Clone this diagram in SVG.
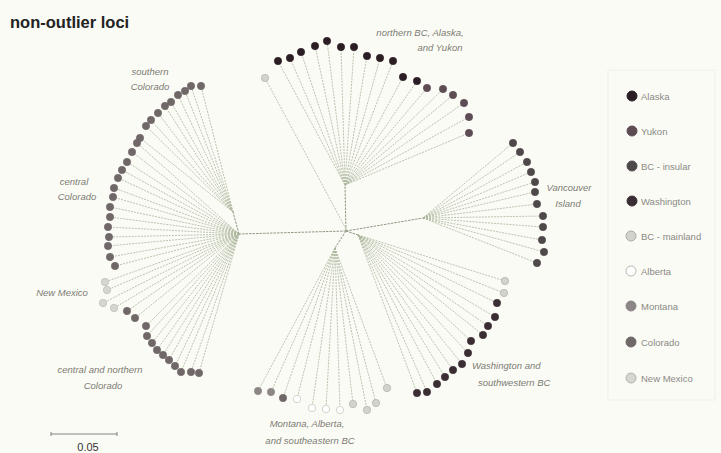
<svg xmlns="http://www.w3.org/2000/svg" width="721" height="453" viewBox="0 0 721 453">
<defs>
<style>
.bg{fill:#fbfbf6}
.br{fill:none;stroke:#a9b59a;stroke-width:0.8;stroke-dasharray:2 1.1}
.bb{fill:none;stroke:#8f9982;stroke-width:1;stroke-dasharray:2.5 1}
.lf{stroke-width:0.6}
.ak{fill:#2b1d24;stroke:#2b1d24}
.yk{fill:#5e4c55;stroke:#5e4c55}
.bi{fill:#4f484b;stroke:#4f484b}
.wa{fill:#3b2d34;stroke:#3b2d34}
.bm{fill:#d2d3cb;stroke:#aaaba3}
.ab{fill:#ffffff;stroke:#b8b8b2}
.mt{fill:#8c8687;stroke:#8c8687}
.co{fill:#6f6768;stroke:#6f6768}
.nm{fill:#d6d7cf;stroke:#b3b4ac}
.lab{font-family:"Liberation Sans",Arial,sans-serif;font-style:italic;font-size:9.5px;fill:#7b7b73}
.leg{font-family:"Liberation Sans",Arial,sans-serif;font-size:9.5px;fill:#8a8a84}
</style>
</defs>
<rect class="bg" x="0" y="0" width="721" height="453"/>
<text x="10" y="28" font-family="'Liberation Sans',Arial,sans-serif" font-weight="bold" font-size="16.5" fill="#222">non-outlier loci</text>

<g id="connectors">
<path class="bb" d="M346,231L345,185M346,231L423,218M346,231L358,235M346,231L335,248M346,231L239,234M239,234L233,212"/>
<path class="br" d="M346,229L265,78M345,185L278,61M345,185L290,58M345,185L301,52M345,185L315,46M345,185L327,41M345,185L341,47M345,185L354,47M345,185L367,56M345,185L380,58M345,185L393,61M345,185L403,77M345,185L417,81M345,185L427,88M345,185L443,89M345,185L453,95M345,185L464,103M345,185L469,117M345,185L469,133"/>
<path class="br" d="M423,218L513,143M423,218L520,152M423,218L527,162M423,218L531,172M423,218L535,182M423,218L535,192M423,218L537,204M423,218L543,216M423,218L543,227M423,218L542,240M423,218L544,252M423,218L537,263"/>
<path class="br" d="M358,235L505,281M358,235L504,293M358,235L497,303M358,235L495,317M358,235L488,326M358,235L483,335M358,235L471,341M358,235L468,353M358,235L462,364M358,235L453,370M358,235L445,377M358,235L437,384M358,235L427,392M358,235L417,393"/>
<path class="br" d="M335,248L258,391M335,248L271,392M335,248L283,398M335,248L297,399M335,248L312,408M335,248L326,409M335,248L340,410M335,248L353,404M335,248L367,410M335,248L376,403M335,248L387,388"/>
<path class="br" d="M233,212L201,86M233,212L191,86M233,212L185,91M233,212L178,95M233,212L171,102M233,212L165,106M233,212L158,113M233,212L151,120M233,212L146,126M233,212L140,138M239,234L137,143M239,234L132,152M239,234L127,162M239,234L122,170M239,234L118,178M239,234L114,188M239,234L113,197M239,234L110,207M239,234L110,217M239,234L108,227M239,234L109,237M239,234L108,246M239,234L110,257M239,234L115,266M239,234L105,282M239,234L107,290M239,234L103,303M239,234L114,308M239,234L127,311M239,234L135,318M239,234L146,326M239,234L147,336M239,234L152,343M239,234L157,350M239,234L163,355M239,234L169,360M239,234L175,366M239,234L181,372M239,234L191,372M239,234L199,373"/>
</g>

<g id="clade-north" class="lf">
<circle id="n1" class="bm" cx="265" cy="78" r="3.7"/>
<circle id="n2" class="ak" cx="278" cy="61" r="3.7"/>
<circle id="n3" class="ak" cx="290" cy="58" r="3.7"/>
<circle id="n4" class="ak" cx="301" cy="52" r="3.7"/>
<circle id="n5" class="ak" cx="315" cy="46" r="3.7"/>
<circle id="n6" class="ak" cx="327" cy="41" r="3.7"/>
<circle id="n7" class="ak" cx="341" cy="47" r="3.7"/>
<circle id="n8" class="ak" cx="354" cy="47" r="3.7"/>
<circle id="n9" class="ak" cx="367" cy="56" r="3.7"/>
<circle id="n10" class="ak" cx="380" cy="58" r="3.7"/>
<circle id="n11" class="ak" cx="393" cy="61" r="3.7"/>
<circle id="n12" class="ak" cx="403" cy="77" r="3.7"/>
<circle id="n13" class="ak" cx="417" cy="81" r="3.7"/>
<circle id="n14" class="yk" cx="427" cy="88" r="3.7"/>
<circle id="n15" class="yk" cx="443" cy="89" r="3.7"/>
<circle id="n16" class="yk" cx="453" cy="95" r="3.7"/>
<circle id="n17" class="yk" cx="464" cy="103" r="3.7"/>
<circle id="n18" class="yk" cx="469" cy="117" r="3.7"/>
<circle id="n19" class="yk" cx="469" cy="133" r="3.7"/>
<text class="lab" x="420" y="36" text-anchor="middle">northern BC, Alaska,</text>
<text class="lab" x="440" y="51" text-anchor="middle">and Yukon</text>
</g>

<g id="clade-vancouver" class="lf">
<circle id="v1" class="bi" cx="513" cy="143" r="3.7"/>
<circle id="v2" class="bi" cx="520" cy="152" r="3.7"/>
<circle id="v3" class="bi" cx="527" cy="162" r="3.7"/>
<circle id="v4" class="bi" cx="531" cy="172" r="3.7"/>
<circle id="v5" class="bi" cx="535" cy="182" r="3.7"/>
<circle id="v6" class="bi" cx="535" cy="192" r="3.7"/>
<circle id="v7" class="bi" cx="537" cy="204" r="3.7"/>
<circle id="v8" class="bi" cx="543" cy="216" r="3.7"/>
<circle id="v9" class="bi" cx="543" cy="227" r="3.7"/>
<circle id="v10" class="bi" cx="542" cy="240" r="3.7"/>
<circle id="v11" class="bi" cx="544" cy="252" r="3.7"/>
<circle id="v12" class="bi" cx="537" cy="263" r="3.7"/>
<text class="lab" x="569" y="191" text-anchor="middle">Vancouver</text>
<text class="lab" x="568" y="207" text-anchor="middle">Island</text>
</g>

<g id="clade-washington" class="lf">
<circle id="w1" class="bm" cx="505" cy="281" r="3.7"/>
<circle id="w2" class="bm" cx="504" cy="293" r="3.7"/>
<circle id="w3" class="wa" cx="497" cy="303" r="3.7"/>
<circle id="w4" class="wa" cx="495" cy="317" r="3.7"/>
<circle id="w5" class="wa" cx="488" cy="326" r="3.7"/>
<circle id="w6" class="wa" cx="483" cy="335" r="3.7"/>
<circle id="w7" class="wa" cx="471" cy="341" r="3.7"/>
<circle id="w8" class="wa" cx="468" cy="353" r="3.7"/>
<circle id="w9" class="wa" cx="462" cy="364" r="3.7"/>
<circle id="w10" class="wa" cx="453" cy="370" r="3.7"/>
<circle id="w11" class="wa" cx="445" cy="377" r="3.7"/>
<circle id="w12" class="wa" cx="437" cy="384" r="3.7"/>
<circle id="w13" class="wa" cx="427" cy="392" r="3.7"/>
<circle id="w14" class="wa" cx="417" cy="393" r="3.7"/>
<text class="lab" x="472" y="369">Washington and</text>
<text class="lab" x="478" y="386">southwestern BC</text>
</g>

<g id="clade-montana" class="lf">
<circle id="m1" class="mt" cx="258" cy="391" r="3.7"/>
<circle id="m2" class="mt" cx="271" cy="392" r="3.7"/>
<circle id="m3" class="co" cx="283" cy="398" r="3.7"/>
<circle id="m4" class="ab" cx="297" cy="399" r="3.7"/>
<circle id="m5" class="ab" cx="312" cy="408" r="3.7"/>
<circle id="m6" class="ab" cx="326" cy="409" r="3.7"/>
<circle id="m7" class="ab" cx="340" cy="410" r="3.7"/>
<circle id="m8" class="bm" cx="353" cy="404" r="3.7"/>
<circle id="m9" class="bm" cx="367" cy="410" r="3.7"/>
<circle id="m10" class="bm" cx="376" cy="403" r="3.7"/>
<circle id="m11" class="bm" cx="387" cy="388" r="3.7"/>
<text class="lab" x="307" y="427" text-anchor="middle">Montana, Alberta,</text>
<text class="lab" x="310" y="444" text-anchor="middle">and southeastern BC</text>
</g>

<g id="clade-colorado" class="lf">
<circle id="c1" class="co" cx="201" cy="86" r="3.7"/>
<circle id="c2" class="co" cx="191" cy="86" r="3.7"/>
<circle id="c3" class="co" cx="185" cy="91" r="3.7"/>
<circle id="c4" class="co" cx="178" cy="95" r="3.7"/>
<circle id="c5" class="co" cx="171" cy="102" r="3.7"/>
<circle id="c6" class="co" cx="165" cy="106" r="3.7"/>
<circle id="c7" class="co" cx="158" cy="113" r="3.7"/>
<circle id="c8" class="co" cx="151" cy="120" r="3.7"/>
<circle id="c9" class="co" cx="146" cy="126" r="3.7"/>
<circle id="c10" class="co" cx="140" cy="138" r="3.7"/>
<circle id="c11" class="co" cx="137" cy="143" r="3.7"/>
<circle id="c12" class="co" cx="132" cy="152" r="3.7"/>
<circle id="c13" class="co" cx="127" cy="162" r="3.7"/>
<circle id="c14" class="co" cx="122" cy="170" r="3.7"/>
<circle id="c15" class="co" cx="118" cy="178" r="3.7"/>
<circle id="c16" class="co" cx="114" cy="188" r="3.7"/>
<circle id="c17" class="co" cx="113" cy="197" r="3.7"/>
<circle id="c18" class="co" cx="110" cy="207" r="3.7"/>
<circle id="c19" class="co" cx="110" cy="217" r="3.7"/>
<circle id="c20" class="co" cx="108" cy="227" r="3.7"/>
<circle id="c21" class="co" cx="109" cy="237" r="3.7"/>
<circle id="c22" class="co" cx="108" cy="246" r="3.7"/>
<circle id="c23" class="co" cx="110" cy="257" r="3.7"/>
<circle id="c24" class="co" cx="115" cy="266" r="3.7"/>
<circle id="x1" class="nm" cx="105" cy="282" r="3.7"/>
<circle id="x2" class="nm" cx="107" cy="290" r="3.7"/>
<circle id="x3" class="nm" cx="103" cy="303" r="3.7"/>
<circle id="x4" class="nm" cx="114" cy="308" r="3.7"/>
<circle id="c25" class="co" cx="127" cy="311" r="3.7"/>
<circle id="c26" class="co" cx="135" cy="318" r="3.7"/>
<circle id="c27" class="co" cx="146" cy="326" r="3.7"/>
<circle id="c28" class="co" cx="147" cy="336" r="3.7"/>
<circle id="c29" class="co" cx="152" cy="343" r="3.7"/>
<circle id="c30" class="co" cx="157" cy="350" r="3.7"/>
<circle id="c31" class="co" cx="163" cy="355" r="3.7"/>
<circle id="c32" class="co" cx="169" cy="360" r="3.7"/>
<circle id="c33" class="co" cx="175" cy="366" r="3.7"/>
<circle id="c34" class="co" cx="181" cy="372" r="3.7"/>
<circle id="c35" class="co" cx="191" cy="372" r="3.7"/>
<circle id="c36" class="co" cx="199" cy="373" r="3.7"/>
<text class="lab" x="150" y="75" text-anchor="middle">southern</text>
<text class="lab" x="150" y="90" text-anchor="middle">Colorado</text>
<text class="lab" x="74" y="185" text-anchor="middle">central</text>
<text class="lab" x="77" y="200" text-anchor="middle">Colorado</text>
<text class="lab" x="62" y="296" text-anchor="middle">New Mexico</text>
<text class="lab" x="100" y="373" text-anchor="middle">central and northern</text>
<text class="lab" x="103" y="389" text-anchor="middle">Colorado</text>
</g>

<g id="legend">
<rect x="608" y="70" width="107" height="330" fill="none" stroke="#efefe9" stroke-width="1"/>
<circle class="ak" cx="632" cy="96" r="5"/><text class="leg" x="641" y="99.5">Alaska</text>
<circle class="yk" cx="632" cy="131" r="5"/><text class="leg" x="641" y="134.5">Yukon</text>
<circle class="bi" cx="632" cy="166" r="5"/><text class="leg" x="641" y="169.5">BC - insular</text>
<circle class="wa" cx="632" cy="201" r="5"/><text class="leg" x="641" y="204.5">Washington</text>
<circle class="bm" cx="631" cy="236" r="5"/><text class="leg" x="641" y="239.5">BC - mainland</text>
<circle class="ab" cx="631" cy="271" r="5"/><text class="leg" x="641" y="274.5">Alberta</text>
<circle class="mt" cx="631" cy="306" r="5"/><text class="leg" x="641" y="309.5">Montana</text>
<circle class="co" cx="631" cy="342" r="5"/><text class="leg" x="641" y="345.5">Colorado</text>
<circle class="nm" cx="631" cy="378" r="5"/><text class="leg" x="641" y="381.5">New Mexico</text>
</g>

<g id="scale-bar">
<path d="M51,432V436M51,434H117M117,432V436" fill="none" stroke="#777" stroke-width="0.9"/>
<text x="88" y="451" text-anchor="middle" font-family="'Liberation Sans',Arial,sans-serif" font-size="11" fill="#333">0.05</text>
</g>
</svg>
